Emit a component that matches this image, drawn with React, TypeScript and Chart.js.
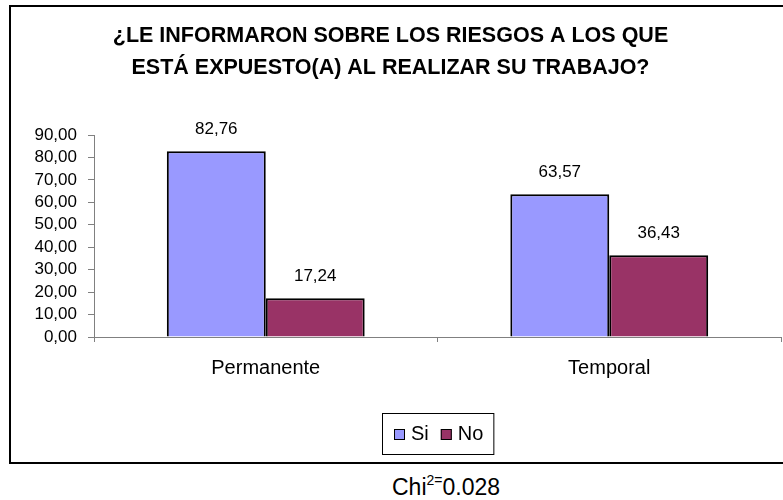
import React, { useEffect, useRef } from "react";
import { Chart, registerables } from "chart.js";

Chart.register(...registerables);

const titleLines = [
  "¿LE INFORMARON SOBRE LOS RIESGOS A LOS QUE",
  "ESTÁ EXPUESTO(A) AL REALIZAR SU TRABAJO?",
];
const categories = ["Permanente", "Temporal"];
const seriesNames = ["Si", "No"];
const siValues = [82.76, 63.57];
const noValues = [17.24, 36.43];
const seriesColors = ["#9999FF", "#993366"];
const yMin = 0;
const yMax = 90;
const yStep = 10;
const chiBase = "Chi";
const chiSup = "2=";
const chiValue = "0.028";

const FONT = "'Liberation Sans', Arial, Helvetica, sans-serif";

const fmt = (v: number) => Number(v).toFixed(2).replace(".", ",");

const valueLabelsPlugin = {
  id: "valueLabels",
  afterDatasetsDraw(chart: any) {
    const ctx = chart.ctx;
    ctx.save();
    ctx.font = `17px ${FONT}`;
    ctx.fillStyle = "#000";
    ctx.textAlign = "center";
    ctx.textBaseline = "middle";
    chart.data.datasets.forEach((ds: any, i: number) => {
      const meta = chart.getDatasetMeta(i);
      meta.data.forEach((el: any, j: number) => {
        ctx.fillText(fmt(ds.data[j]), el.x, el.y - 22);
      });
    });
    ctx.restore();
  },
};

const boxLegendPlugin = {
  id: "boxLegend",
  afterDraw(chart: any) {
    const ctx = chart.ctx;
    const area = chart.chartArea;
    ctx.save();
    ctx.font = `20px ${FONT}`;
    const padL = 12;
    const padR = 10;
    const sq = 11;
    const gap = 6;
    const itemGap = 12;
    const items = chart.data.datasets.map((ds: any) => ({
      label: ds.label,
      color: ds.backgroundColor,
      w: ctx.measureText(ds.label).width,
    }));
    let total = padL + padR;
    items.forEach((it: any, i: number) => {
      total += sq + gap + it.w + (i > 0 ? itemGap : 0);
    });
    const h = 41;
    const cx = (area.left + area.right) / 2;
    const left = Math.round(cx - total / 2);
    const top = Math.round(area.bottom + 76);
    ctx.strokeStyle = "#000";
    ctx.lineWidth = 1;
    ctx.strokeRect(left + 0.5, top + 0.5, total, h);
    let x = left + padL;
    const cy = top + h / 2 + 0.5;
    items.forEach((it: any, i: number) => {
      if (i > 0) x += itemGap;
      ctx.fillStyle = it.color;
      ctx.fillRect(x, Math.round(cy - sq / 2), sq, sq);
      ctx.strokeStyle = "#000";
      ctx.lineWidth = 1;
      ctx.strokeRect(x + 0.5, Math.round(cy - sq / 2) + 0.5, sq - 1, sq - 1);
      x += sq + gap;
      ctx.fillStyle = "#000";
      ctx.textAlign = "left";
      ctx.textBaseline = "middle";
      ctx.fillText(it.label, x, cy);
      x += it.w;
    });
    ctx.restore();
  },
};

export default function App() {
  const canvasRef = useRef<HTMLCanvasElement | null>(null);

  useEffect(() => {
    if (!canvasRef.current) return;
    const values = [siValues, noValues];
    const chart = new Chart(canvasRef.current, {
      type: "bar",
      data: {
        labels: categories,
        datasets: seriesNames.map((name, i) => ({
          label: name,
          data: values[i],
          backgroundColor: seriesColors[i],
          borderColor: "#000000",
          borderWidth: 2,
          categoryPercentage: 0.576,
          barPercentage: 1,
        })),
      },
      options: {
        responsive: false,
        animation: false,
        devicePixelRatio: 1,
        layout: { padding: { left: 0, right: 2, top: 0, bottom: 84 } },
        plugins: {
          legend: { display: false },
          tooltip: { enabled: false },
          title: {
            display: true,
            text: titleLines,
            color: "#000",
            font: { family: FONT, size: 21.5, weight: "bold", lineHeight: 1.5 },
            padding: { top: 19.5, bottom: 51 },
          },
        },
        scales: {
          x: {
            offset: true,
            grid: {
              offset: true,
              drawOnChartArea: false,
              drawTicks: true,
              tickLength: 5,
              color: "#808080",
            },
            border: { display: true, color: "#808080", width: 1 },
            ticks: {
              color: "#000",
              font: { family: FONT, size: 20 },
              padding: 14,
            },
            afterFit: (s: any) => {
              s.height = 43;
            },
          },
          y: {
            min: yMin,
            max: yMax,
            ticks: {
              stepSize: yStep,
              autoSkip: false,
              color: "#000",
              font: { family: FONT, size: 17 },
              padding: 11,
              callback: (v: any) => fmt(v),
            },
            grid: {
              drawOnChartArea: false,
              drawTicks: true,
              tickLength: 6,
              color: "#808080",
            },
            border: { display: true, color: "#808080", width: 1 },
            afterFit: (s: any) => {
              s.width = 94;
            },
          },
        },
      },
      plugins: [valueLabelsPlugin, boxLegendPlugin],
    } as any);
    return () => chart.destroy();
  }, []);

  return (
    <div
      style={{
        position: "fixed",
        left: 0,
        top: 0,
        width: 783,
        height: 500,
        overflow: "hidden",
        background: "#fff",
      }}
    >
      <div
        style={{
          position: "absolute",
          left: 9,
          top: 5,
          width: 820,
          height: 459,
          border: "2px solid #000",
          boxSizing: "border-box",
        }}
      />
      <canvas
        ref={canvasRef}
        width={783}
        height={464}
        style={{ position: "absolute", left: 0, top: 0, display: "block" }}
      />
      <div
        style={{
          position: "absolute",
          left: 446,
          top: 476,
          transform: "translateX(-50%)",
          whiteSpace: "nowrap",
          fontFamily: FONT,
          fontSize: 23,
          lineHeight: "23px",
          color: "#000",
        }}
      >
        {chiBase}
        <span style={{ fontSize: 14, position: "relative", top: -10 }}>{chiSup}</span>
        {chiValue}
      </div>
    </div>
  );
}
